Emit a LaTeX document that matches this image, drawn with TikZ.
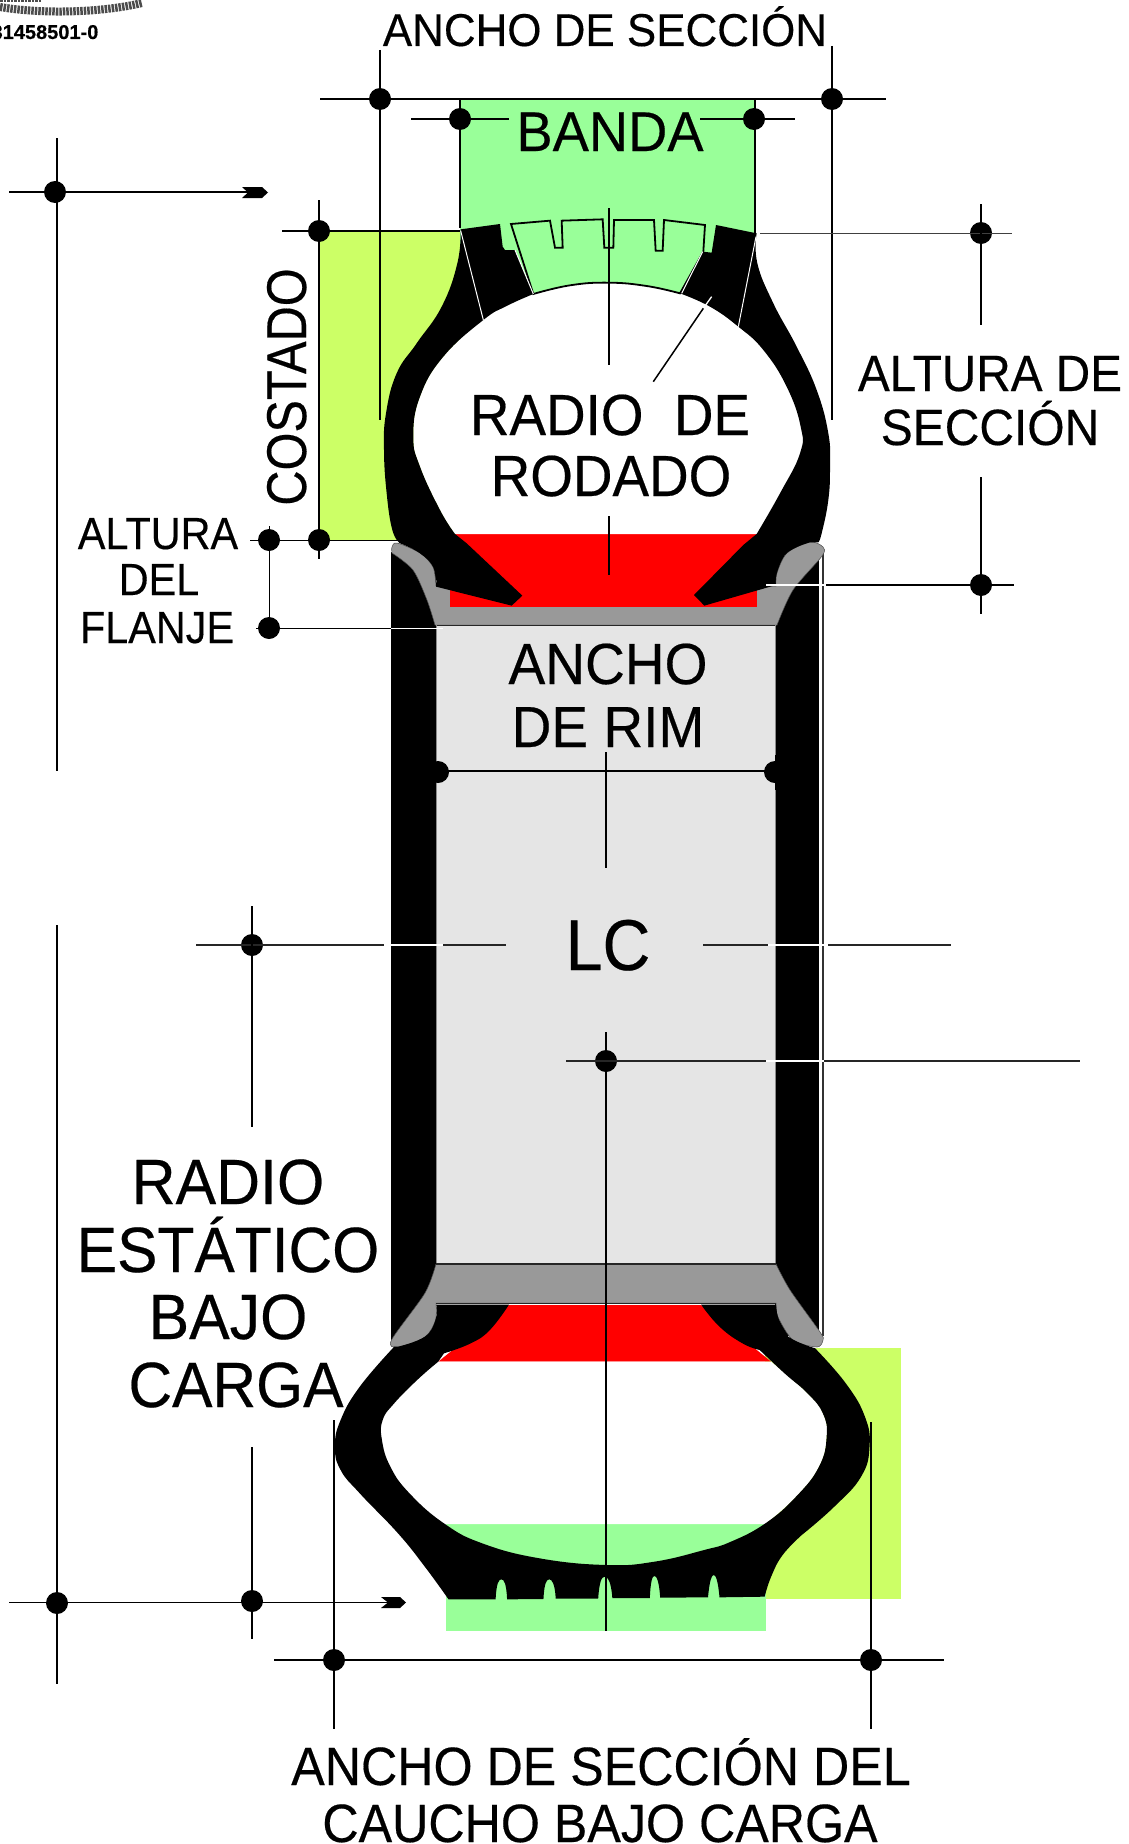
\documentclass[tikz,border=0pt]{standalone}
\usepackage{fontspec}
\usepackage{graphicx}
\setmainfont{Liberation Sans}[FakeBold=0.35]
\definecolor{banda}{HTML}{99FF99}
\definecolor{costado}{HTML}{CCFF66}
\definecolor{rimg}{HTML}{999999}
\definecolor{riml}{HTML}{E5E5E5}
\tikzset{
  dimline/.style={draw=black,line width=1.5pt},
  whiteline/.style={draw=white,line width=1.3pt},
  dot/.style={circle,fill=black,inner sep=0pt,minimum size=22pt},
  lab/.style={anchor=base,inner sep=0pt,text=black},
  topz/.style={shift={(360,200)},x=0.33333pt,y=-0.33333pt},
  botz/.style={shift={(310,1240)},x=0.38270pt,y=-0.33333pt},
  sm/.style={smooth,tension=.75},
}
\newcommand{\lbl}[6]{\node[lab] (#1) at (#2,#3) {\fontsize{#4}{#4}\selectfont\scalebox{#5}[1]{#6}};}
\begin{document}
\begin{tikzpicture}[x=1pt,y=-1pt]
\useasboundingbox (0,0) rectangle (1128,1844);
\fill[white] (0,0) rectangle (1128,1844);
% logo fragment
\draw[line width=8pt,draw=black!70,dash pattern=on 2.5pt off 1pt] (0,7) .. controls (40,14) and (100,13) .. (142,3);
\draw[line width=5pt,draw=black!70,dash pattern=on 2.5pt off 1pt] (0,0) -- (42,0);
% colour fields
\fill[banda] (460,99) rectangle (755,295);
\fill[costado] (319,231) rectangle (460,540);
\fill[costado] (765,1348) rectangle (901,1599);
\fill[banda] (446,1524) rectangle (766,1631);
% rim walls
\fill[black] (391,552) rectangle (436,1340);
\fill[black] (775,556) rectangle (819,1336);
\draw[line width=1.2pt,draw=black!80] (823,550) -- (823,1336);
% top rim
\fill[rimg,draw=black!70,line width=.5pt] plot[smooth,tension=.5] coordinates {(392,553)(392,547)(397,543)(420,553)(433,567)(436,586)} -- (776,586) -- plot[smooth,tension=.5] coordinates {(776,586)(777,573)(787,553)(810,542)(823,547)(822,556)(793,590)(777,625)} -- (435,625) -- plot[smooth,tension=.5] coordinates {(435,625)(427,600)(413,570)(392,553)} -- cycle;
\fill[red] (450,534) rectangle (757,607);
% light rim centre
\fill[riml] (436,625) rectangle (775,1264);
\draw[line width=1.3pt,draw=black!85] (436,625.5) -- (775,625.5);
\draw[line width=1pt,draw=black!45] (436,625) -- (436,1264) (775,625) -- (775,1264);
% bottom rim
\fill[rimg,draw=black!70,line width=.5pt] (436,1264) -- (776,1264) -- plot[smooth,tension=.5] coordinates {(776,1264)(790,1290)(820,1332)(823,1340)(817,1347)(793,1340)(778,1317)(776,1303)} -- (436,1303) -- plot[smooth,tension=.5] coordinates {(436,1303)(435.5,1320)(425,1337)(398,1347)(391.5,1340)(425,1293)(436,1264)} -- cycle;
\draw[line width=1.5pt,draw=black!85] (436,1264) -- (776,1264);
\draw[line width=.8pt,draw=black!85] (436,1303) -- (776,1303);
% top tyre
\begin{scope}[topz]
  \fill[white] plot[sm] coordinates {(285,1002)(240,930)(180,800)(160,710)(180,590)(250,470)(370,360)(440,318)(520,282)(630,256)(745,248)(860,258)(960,280)(1050,320)(1135,380)(1210,450)(1280,560)(1322,680)(1320,760)(1260,880)(1190,1002)} -- cycle;
  \fill[banda,draw=black,line width=1.8pt] (453,72) -- (570,62) -- (585,143) -- (608,143) -- (605,62) -- (728,58) -- (733,143) -- (760,143) -- (762,60) -- (882,60) -- (887,152) -- (908,152) -- (912,60) -- (1035,75) -- (1030,155) -- (960,280) -- plot[sm] coordinates {(960,280)(860,258)(745,248)(630,256)(520,282)} -- cycle;
  \fill[black] (420,72) -- plot[sm] coordinates {(302,88)(292,190)(245,320)(170,430)(110,520)(78,640)(72,750)(80,880)(97,990)(120,1030)} -- plot[sm] coordinates {(120,1030)(180,1060)(222,1105)(228,1160)} -- (455,1217) -- (487,1187) -- (320,1030) -- plot[sm] coordinates {(285,1002)(240,930)(180,800)(160,710)(180,590)(250,470)(370,360)(440,318)(520,282)} -- (465,150) -- (435,150) -- (428,140) -- cycle;
  \fill[black] (1068,75) -- plot[sm] coordinates {(1190,100)(1192,190)(1240,310)(1310,440)(1370,570)(1405,700)(1410,800)(1405,900)(1385,1000)(1375,1027)} -- plot[sm] coordinates {(1350,1027)(1280,1060)(1250,1120)(1248,1155)} -- (1033,1217) -- (1002,1185) -- (1150,1035) -- plot[sm] coordinates {(1190,1002)(1260,880)(1320,760)(1322,680)(1280,560)(1210,450)(1135,380)(1050,320)(960,280)} -- (1028,155) -- (1055,158) -- cycle;
  \coordinate (wa1) at (302,92); \coordinate (wa2) at (370,360);
  \coordinate (wb1) at (465,150); \coordinate (wb2) at (520,282);
  \coordinate (wc1) at (1188,110); \coordinate (wc2) at (1135,380);
  \coordinate (wd1) at (1028,155); \coordinate (wd2) at (965,280);
  \coordinate (le1) at (1055,290); \coordinate (le2) at (1030,325); \coordinate (le3) at (880,545);
\end{scope}
\draw[white,line width=1pt] (wa1) -- (wa2) (wb1) -- (wb2) (wc1) -- (wc2) (wd1) -- (wd2);
\draw[white,line width=1.3pt] (le1) -- (le2);
\draw[dimline] (le2) -- (le3);
% bottom tyre
\begin{scope}[botz]
  \fill[red] (520,195) -- (1022,195) -- (1205,365) -- (335,365) -- cycle;
  \fill[white] plot[sm] coordinates {(335,365)(280,420)(220,490)(190,540)(188,600)(210,680)(260,760)(350,852)} -- plot[sm] coordinates {(1190,852)(1270,770)(1330,680)(1350,590)(1340,520)(1300,460)(1205,365)} -- cycle;
  \fill[black] (330,194) -- (520,194) -- plot[sm] coordinates {(520,194)(470,270)(420,310)(350,340)} -- (335,365) -- plot[sm] coordinates {(335,365)(280,420)(220,490)(190,540)(188,600)(210,680)(260,760)(350,850)(450,910)(600,955)(775,975)(900,965)(1030,930)(1100,905)(1190,850)(1270,770)(1330,680)(1350,590)(1340,520)(1300,460)(1240,400)(1175,330)} -- plot[sm] coordinates {(1175,330)(1130,310)(1070,260)(1022,194)} -- (1218,194) -- plot[sm] coordinates {(1218,194)(1225,240)(1250,290)(1320,325)} -- plot[sm] coordinates {(1320,325)(1400,430)(1450,530)(1462,620)(1440,710)(1370,800)(1285,885)} -- plot[sm] coordinates {(1285,885)(1235,945)(1205,1010)(1188,1070)} -- (1070,1072) .. controls (1066,1020) and (1060,1005) .. (1055,1005) .. controls (1050,1005) and (1044,1020) .. (1040,1072) -- (915,1073) .. controls (912,1020) and (905,1008) .. (900,1008) .. controls (895,1008) and (890,1020) .. (888,1074) -- (790,1074) .. controls (787,1025) and (778,1010) .. (770,1010) .. controls (762,1010) and (756,1025) .. (753,1076) -- (642,1076) .. controls (640,1030) and (632,1018) .. (625,1018) .. controls (618,1018) and (612,1030) .. (610,1077) -- (515,1078) .. controls (513,1030) and (507,1018) .. (500,1018) .. controls (493,1018) and (487,1030) .. (485,1078) -- (362,1078) -- plot[sm] coordinates {(362,1078)(300,980)(230,880)(130,760)(80,690)(65,620)(80,540)(130,440)(220,320)} -- plot[sm] coordinates {(230,320)(300,290)(328,240)(330,194)} -- cycle;
\end{scope}
% dimension coordinates and dots
\node[dot] (dtl) at (380,99) {};
\node[dot] (dtr) at (832,99) {};
\coordinate (tl0) at (320,99); \coordinate (tr0) at (886,99);
\draw[dimline] (tl0) -- (tr0);
\coordinate (vl1) at (380,50); \coordinate (vl2) at (380,420);
\coordinate (vr1) at (832,46); \coordinate (vr2) at (832,420);
\draw[dimline] (vl1) -- (vl2);
\draw[dimline] (vr1) -- (vr2);
\node[dot] (dbl) at (460,119) {};
\node[dot] (dbr) at (754,119) {};
\coordinate (bl0) at (411,119); \coordinate (bl1) at (509,119);
\coordinate (br0) at (700,119); \coordinate (br1) at (795,119);
\draw[dimline] (bl0) -- (bl1);
\draw[dimline] (br0) -- (br1);
\coordinate (gl1) at (460,99); \coordinate (gl2) at (460,228);
\coordinate (gr1) at (755,99); \coordinate (gr2) at (755,233);
\draw[line width=1.1pt] (gl1) -- (gl2) (gr1) -- (gr2);
% left arrow upper
\node[dot] (dar1) at (55,192) {};
\coordinate (ar1a) at (9,192); \coordinate (ar1b) at (250,192);
\draw[dimline] (ar1a) -- (ar1b);
\fill[black] (242,187) -- (262,187) -- (268,192.5) -- (262,198) -- (242,198) -- (248,192.5) -- cycle;
\coordinate (rv1) at (57,138); \coordinate (rv2) at (57,771);
\draw[dimline] (rv1) -- (rv2);
% costado
\node[dot] (dc1) at (319,231) {};
\node[dot] (dc2) at (319,540) {};
\node[dot] (df1) at (269,540) {};
\node[dot] (df2) at (269,628) {};
\coordinate (c1a) at (282,231); \coordinate (c1b) at (460,231);
\draw[line width=1.3pt] (c1a) -- (c1b);
\coordinate (cva) at (319,200); \coordinate (cvb) at (319,559);
\draw[line width=1.3pt] (cva) -- (cvb);
\coordinate (c2a) at (250,540); \coordinate (c2b) at (398,540);
\draw[line width=1pt] (c2a) -- (c2b);
\coordinate (fva) at (269,526); \coordinate (fvb) at (269,628);
\draw[line width=1pt] (fva) -- (fvb);
\coordinate (f2a) at (256,628); \coordinate (f2b) at (391,628); \coordinate (f2c) at (443,628);
\draw[line width=1pt] (f2a) -- (f2b);
\draw[white,line width=1pt] (f2b) -- (f2c);
% altura de seccion
\node[dot] (dh1) at (981,233) {};
\node[dot] (dh2) at (981,585) {};
\coordinate (h1a) at (760,233.5); \coordinate (h1b) at (1012,233.5);
\draw[line width=1.5pt,draw=black!75] (h1a) -- (h1b);
\coordinate (hv1) at (981,204); \coordinate (hv2) at (981,325);
\coordinate (hv3) at (981,477); \coordinate (hv4) at (981,614);
\draw[line width=1.3pt] (hv1) -- (hv2) (hv3) -- (hv4);
\coordinate (h2a) at (766,585); \coordinate (h2b) at (826,585); \coordinate (h2c) at (1014,585);
\draw[white,line width=1.3pt] (h2a) -- (h2b);
\draw[dimline] (h2b) -- (h2c);
% centre
\coordinate (m1) at (609,208); \coordinate (m2) at (609,365);
\coordinate (m3) at (609,516); \coordinate (m4) at (609,575);
\draw[line width=1.3pt] (m1) -- (m2) (m3) -- (m4);
\coordinate (m5) at (606,752); \coordinate (m6) at (606,868);
\coordinate (m7) at (606,1032); \coordinate (m8) at (606,1631);
\draw[line width=1.3pt] (m5) -- (m6) (m7) -- (m8);
% ancho de rim
\node[dot] (drl) at (438,772) {};
\node[dot] (drr) at (775,772) {};
\coordinate (rl) at (438,771); \coordinate (rr) at (775,771);
\draw[line width=1.3pt] (rl) -- (rr);
\fill[black] (425,755) rectangle (436,790);
\fill[black] (775,755) rectangle (790,790);
% LC
\node[dot] (dlc) at (252,945) {};
\coordinate (la) at (196,945); \coordinate (lb) at (384,945); \coordinate (lc) at (443,945); \coordinate (ld) at (506,945);
\draw[line width=1.3pt,draw=black!85] (la) -- (lb) (lc) -- (ld);
\draw[white,line width=1.3pt] (lb) -- (lc);
\coordinate (ra) at (703,945); \coordinate (rb) at (768,945); \coordinate (rc) at (828,945); \coordinate (rd) at (951,945);
\draw[line width=1.3pt,draw=black!85] (ra) -- (rb) (rc) -- (rd);
\draw[white,line width=1.3pt] (rb) -- (rc);
\coordinate (lv1) at (252,906); \coordinate (lv2) at (252,1127);
\coordinate (lv3) at (252,1447); \coordinate (lv4) at (252,1639);
\draw[line width=1.3pt] (lv1) -- (lv2) (lv3) -- (lv4);
% centre point
\node[dot] (dcc) at (606,1061) {};
\coordinate (ca) at (566,1061); \coordinate (cb) at (766,1061); \coordinate (cc) at (824,1061); \coordinate (cd) at (1080,1061);
\draw[line width=1.3pt,draw=black!85] (ca) -- (cb) (cc) -- (cd);
\draw[white,line width=1.3pt] (cb) -- (cc);
% lower left arrow
\node[dot] (dar2) at (57,1603) {};
\node[dot] (dar3) at (252,1601) {};
\coordinate (a2a) at (9,1602.5); \coordinate (a2b) at (390,1602.5);
\draw[dimline] (a2a) -- (a2b);
\fill[black] (381,1597) -- (400,1597) -- (406,1602.5) -- (400,1608) -- (381,1608) -- (388,1602.5) -- cycle;
\coordinate (r2a) at (57,925); \coordinate (r2b) at (57,1684);
\draw[dimline] (r2a) -- (r2b);
% bottom dimension
\node[dot] (dsl) at (334,1660) {};
\node[dot] (dsr) at (871,1660) {};
\coordinate (sa) at (274,1660); \coordinate (sb) at (944,1660);
\draw[line width=1.3pt] (sa) -- (sb);
\coordinate (sl1) at (334,1420); \coordinate (sl2) at (334,1729);
\coordinate (sr1) at (871,1422); \coordinate (sr2) at (871,1729);
\draw[dimline] (sl1) -- (sl2);
\draw[dimline] (sr1) -- (sr2);
% labels
\lbl{t0}{45}{39}{20}{1}{\bfseries 31458501-0}
\lbl{t1}{605}{46}{46}{.955}{ANCHO DE SECCIÓN}
\lbl{t2}{610}{151}{56}{.97}{BANDA}
\lbl{t3}{610}{435}{58}{.945}{RADIO\ \ DE}
\lbl{t4}{611}{496}{58}{.945}{RODADO}
\lbl{t5}{990}{391}{51}{.935}{ALTURA DE}
\lbl{t6}{990}{445}{51}{.94}{SECCIÓN}
\lbl{t7}{158}{549}{45}{.92}{ALTURA}
\lbl{t8}{159}{595}{45}{.92}{DEL}
\lbl{t9}{157}{643}{45}{.92}{FLANJE}
\node[lab,rotate=90,anchor=base] (t10) at (306,387) {\fontsize{56}{56}\selectfont\scalebox{.87}[1]{COSTADO}};
\lbl{t11}{608}{684}{58}{.95}{ANCHO}
\lbl{t12}{608}{747}{58}{.95}{DE RIM}
\lbl{t13}{608}{970}{72}{.92}{LC}
\lbl{t14}{228}{1204}{64}{.95}{RADIO}
\lbl{t15}{228}{1272}{64}{.945}{ESTÁTICO}
\lbl{t16}{228}{1339}{64}{.95}{BAJO}
\lbl{t17}{236}{1407}{64}{.945}{CARGA}
\lbl{t18}{601}{1785}{54}{.93}{ANCHO DE SECCIÓN DEL}
\lbl{t19}{600}{1842}{54}{.93}{CAUCHO BAJO CARGA}
\end{tikzpicture}
\end{document}
